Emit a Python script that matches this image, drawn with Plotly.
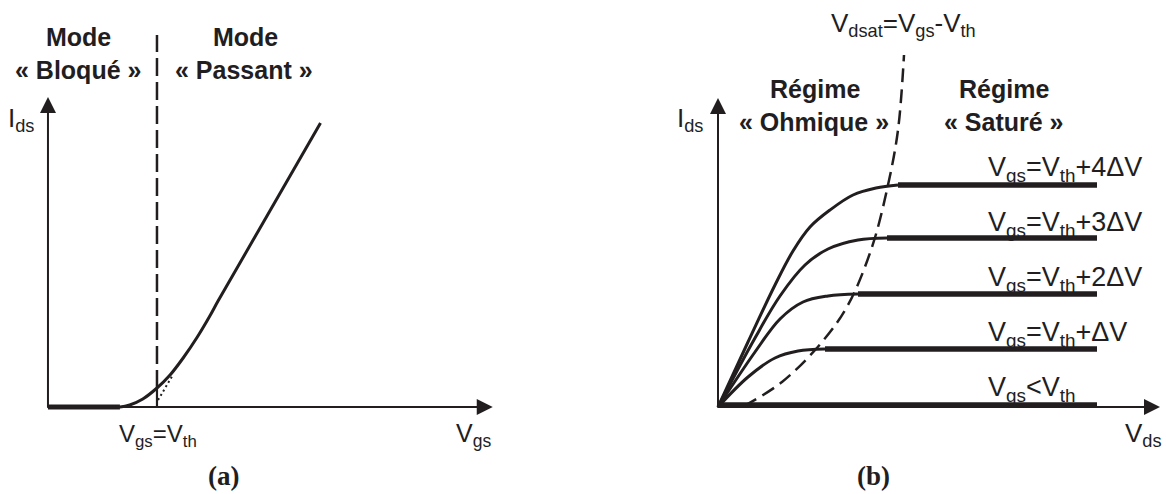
import plotly.graph_objects as go

W, H = 1166, 494
INK = "#221e1f"
SANS = "Liberation Sans, Arial, sans-serif"
SERIF = "Liberation Serif, Times New Roman, serif"

# ---------------- Panel (a): Ids vs Vgs (arbitrary units, Vth = 1) ----------------
vth = 1.0
vgs_curve = [0.0, 0.66, 0.75, 0.87, 1.00, 1.12, 1.24, 1.37, 1.49, 1.56, 2.50]
ids_curve = [0.0, 0.00, 0.02, 0.08, 0.19, 0.32, 0.49, 0.70, 0.92, 1.06, 2.84]
vgs_off = [0.0, 0.66]
ids_off = [0.0, 0.0]
vgs_extrap = [1.01, 1.14]
ids_extrap = [0.07, 0.31]
ids_at_vth = 0.19
vth_line_top = 3.72
axis_a_x_end = 4.08
axis_a_y_end = 3.10

# ---------------- Panel (b): Ids vs Vds (arbitrary units) ----------------
curve_labels = ["V<sub>gs</sub>=V<sub>th</sub>+4ΔV", "V<sub>gs</sub>=V<sub>th</sub>+3ΔV",
                "V<sub>gs</sub>=V<sub>th</sub>+2ΔV", "V<sub>gs</sub>=V<sub>th</sub>+ΔV"]
vds_ohm = [
    [0.0, 0.30, 0.57, 0.75, 0.92, 1.12, 1.35, 1.58, 1.80],
    [0.0, 0.37, 0.62, 0.87, 1.10, 1.40, 1.69],
    [0.0, 0.37, 0.62, 0.85, 1.10, 1.40],
    [0.0, 0.30, 0.57, 0.80, 1.07],
]
ids_ohm = [
    [0.0, 0.65, 1.22, 1.56, 1.80, 1.97, 2.12, 2.19, 2.22],
    [0.0, 0.69, 1.11, 1.42, 1.58, 1.67, 1.69],
    [0.0, 0.55, 0.88, 1.05, 1.11, 1.13],
    [0.0, 0.30, 0.49, 0.56, 0.58],
]
ids_sat = [2.22, 1.69, 1.13, 0.58]
vds_sat_start = [1.80, 1.69, 1.40, 1.07]
vds_end = 3.79
ids_off_b = 0.02
vdsat_x = [0.26, 0.64, 1.04, 1.30, 1.54, 1.70, 1.80, 1.86]
vdsat_y = [0.01, 0.25, 0.65, 1.02, 1.60, 2.22, 2.77, 3.52]
axis_b_x_end = 4.42
axis_b_y_end = 3.09

fig = go.Figure()

# ---- panel (a) traces
fig.add_trace(go.Scatter(x=vgs_off, y=ids_off, mode="lines", line=dict(color=INK, width=5),
                         xaxis="x", yaxis="y", hoverinfo="skip"))
fig.add_trace(go.Scatter(x=vgs_curve, y=ids_curve, mode="lines",
                         line=dict(color=INK, width=3, shape="spline", smoothing=0.8),
                         xaxis="x", yaxis="y", hoverinfo="skip"))
fig.add_trace(go.Scatter(x=vgs_extrap, y=ids_extrap, mode="lines",
                         line=dict(color=INK, width=2, dash="2px,3px"),
                         xaxis="x", yaxis="y", hoverinfo="skip"))
fig.add_trace(go.Scatter(x=[vth, vth], y=[0, ids_at_vth], mode="lines",
                         line=dict(color=INK, width=2.2), xaxis="x", yaxis="y", hoverinfo="skip"))
fig.add_trace(go.Scatter(x=[vth, vth], y=[ids_at_vth, vth_line_top], mode="lines",
                         line=dict(color=INK, width=2.5, dash="18px,6px"),
                         xaxis="x", yaxis="y", hoverinfo="skip"))

# ---- panel (b) traces
for vx, iy, isat, x0 in zip(vds_ohm, ids_ohm, ids_sat, vds_sat_start):
    fig.add_trace(go.Scatter(x=vx, y=iy, mode="lines",
                             line=dict(color=INK, width=3, shape="spline", smoothing=1.0),
                             xaxis="x2", yaxis="y2", hoverinfo="skip"))
    fig.add_trace(go.Scatter(x=[x0, vds_end], y=[isat, isat], mode="lines",
                             line=dict(color=INK, width=5.5),
                             xaxis="x2", yaxis="y2", hoverinfo="skip"))
fig.add_trace(go.Scatter(x=[0, vds_end], y=[ids_off_b, ids_off_b], mode="lines",
                         line=dict(color=INK, width=5.5), xaxis="x2", yaxis="y2", hoverinfo="skip"))
fig.add_trace(go.Scatter(x=vdsat_x, y=vdsat_y, mode="lines",
                         line=dict(color=INK, width=2.5, dash="14px,7px", shape="spline"),
                         xaxis="x2", yaxis="y2", hoverinfo="skip"))

ann = []


def arrow(xr, yr, x0, y0, x1, y1):
    ann.append(dict(xref=xr, yref=yr, axref=xr, ayref=yr, x=x1, y=y1, ax=x0, ay=y0,
                    text="", showarrow=True, arrowhead=2, arrowsize=1.6, arrowwidth=2,
                    arrowcolor=INK, standoff=0, startstandoff=0))


arrow("x", "y", -0.02, 0, axis_a_x_end, 0)
arrow("x", "y", 0, -0.02, 0, axis_a_y_end)
arrow("x2", "y2", -0.02, 0, axis_b_x_end, 0)
arrow("x2", "y2", 0, -0.02, 0, axis_b_y_end)


def text(px, py, s, size=24, bold=False, anchor="center", family=SANS):
    ann.append(dict(xref="paper", yref="paper", x=px / W, y=1 - py / H, text=s,
                    showarrow=False, xanchor=anchor, yanchor="middle",
                    font=dict(family=family, size=size, color=INK,
                              weight="bold" if bold else "normal")))


# panel (a) texts
text(78, 37, "Mode", 25, True)
text(78, 70, "« Bloqué »", 25, True)
text(245, 37, "Mode", 25, True)
text(244, 70, "« Passant »", 25, True)
text(6, 120, "I<sub>ds</sub>", 26, anchor="left")
text(158, 435, "V<sub>gs</sub>=V<sub>th</sub>", 24)
text(473, 435, "V<sub>gs</sub>", 25)
text(223, 476, "(a)", 27, True, family=SERIF)

# panel (b) texts
text(903, 24, "V<sub>dsat</sub>=V<sub>gs</sub>-V<sub>th</sub>", 26)
text(815, 89, "Régime", 25, True)
text(814, 122, "« Ohmique »", 25, True)
text(1004, 89, "Régime", 25, True)
text(1004, 122, "« Saturé »", 25, True)
text(675, 120, "I<sub>ds</sub>", 26, anchor="left")
text(1143, 434, "V<sub>ds</sub>", 26)
text(873, 476, "(b)", 27, True, family=SERIF)
row_y = [169, 224, 279, 334]
for lab, ry in zip(curve_labels, row_y):
    text(986, ry, lab, 27, anchor="left")
text(986, 389, "V<sub>gs</sub>&lt;V<sub>th</sub>", 27, anchor="left")

ax_common = dict(visible=False, fixedrange=True, showgrid=False, zeroline=False)
fig.update_layout(
    width=W, height=H, margin=dict(l=0, r=0, t=0, b=0),
    paper_bgcolor="white", plot_bgcolor="white", showlegend=False,
    xaxis=dict(domain=[0, 0.5], range=[-0.44, 4.908], anchor="y", **ax_common),
    yaxis=dict(domain=[0, 1], range=[-0.87, 4.07], anchor="x", **ax_common),
    xaxis2=dict(domain=[0.5, 1], range=[-1.35, 4.48], anchor="y2", **ax_common),
    yaxis2=dict(domain=[0, 1], range=[-0.87, 4.07], anchor="x2", **ax_common),
    annotations=ann,
)
fig.write_html("out.html")
